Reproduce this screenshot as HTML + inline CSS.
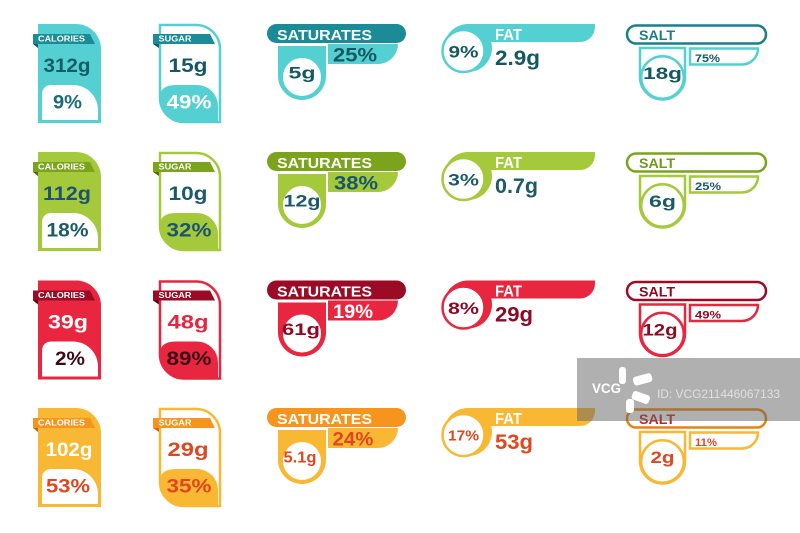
<!DOCTYPE html>
<html><head><meta charset="utf-8"><style>
html,body{margin:0;padding:0;background:#fff;}
svg{display:block;}
text{font-family:"Liberation Sans",Arial,sans-serif;font-weight:bold;}
</style></head><body>
<svg width="800" height="533" viewBox="0 0 800 533" xmlns="http://www.w3.org/2000/svg">
<rect width="800" height="533" fill="#fff"/>

<!-- ROW 1 TEAL -->
<g>
  <path d="M38,24 H76 A25,25 0 0 1 101,49 V123 H38 Z" fill="#55d0d2"/>
  <path d="M42,120 V95 Q42,85 52,85 H73 A25,25 0 0 1 98,110 V120 Z" fill="#fff"/>
  <path d="M33,34 H90 L95,44 H33 Z" fill="#1a8b97"/><path d="M33,44 H38 V48 Z" fill="#0e5c66"/>
  <text x="38" y="41.7" font-size="8" fill="#fff" textLength="47" lengthAdjust="spacingAndGlyphs">CALORIES</text>
  <text x="67" y="72" font-size="19" fill="#145c67" text-anchor="middle" textLength="47" lengthAdjust="spacingAndGlyphs">312g</text>
  <text x="67.5" y="108.5" font-size="19" fill="#1a6c78" text-anchor="middle" textLength="29" lengthAdjust="spacingAndGlyphs">9%</text>

  <path d="M160,98 V97 Q160,85 176,85 H197 A21,21 0 0 1 218,106 V122 H184 A24,24 0 0 1 160,98 Z" fill="#55d0d2"/>
  <path d="M160,25 H196 A24,24 0 0 1 220,49 V122 H184 A24,24 0 0 1 160,98 Z" fill="none" stroke="#55d0d2" stroke-width="2.5"/>
  <path d="M153,34 H210 L215,44 H153 Z" fill="#1a8b97"/><path d="M153,44 H159 V48 Z" fill="#0e5c66"/>
  <text x="158.5" y="41.7" font-size="8" fill="#fff" textLength="33" lengthAdjust="spacingAndGlyphs">SUGAR</text>
  <text x="188" y="72" font-size="19" fill="#135862" text-anchor="middle" textLength="39" lengthAdjust="spacingAndGlyphs">15g</text>
  <text x="189" y="108.5" font-size="19" fill="#fff" text-anchor="middle" textLength="45" lengthAdjust="spacingAndGlyphs">49%</text>

  <rect x="267" y="24" width="139" height="19" rx="9.5" fill="#1a8b97"/>
  <text x="277" y="40" font-size="15" fill="#fff" textLength="95" lengthAdjust="spacingAndGlyphs">SATURATES</text>
  <path d="M278,46 H326 V76 A24,24 0 0 1 278,76 Z" fill="#55d0d2"/>
  <circle cx="302" cy="77" r="20.5" fill="#fff" stroke="#55d0d2" stroke-width="3"/>
  <text x="302" y="78.5" font-size="17" fill="#135862" text-anchor="middle" textLength="27" lengthAdjust="spacingAndGlyphs">5g</text>
  <path d="M328,44 H398 A20,20 0 0 1 378,64 H328 Z" fill="#55d0d2"/>
  <text x="355" y="61.7" font-size="19" fill="#135862" text-anchor="middle" textLength="44" lengthAdjust="spacingAndGlyphs">25%</text>

  <path d="M468,24 H595 V27 A15,15 0 0 1 580,42 H468 Z" fill="#55d0d2"/>
  <circle cx="468" cy="48" r="24" fill="#55d0d2"/>
  <circle cx="463.5" cy="51" r="21" fill="#fff" stroke="#55d0d2" stroke-width="2.5"/>
  <text x="463.5" y="57.5" font-size="17" fill="#135862" text-anchor="middle" textLength="30" lengthAdjust="spacingAndGlyphs">9%</text>
  <text x="495" y="40" font-size="15.5" fill="#fff" textLength="27" lengthAdjust="spacingAndGlyphs">FAT</text>
  <text x="495" y="65" font-size="21" fill="#135862" textLength="45" lengthAdjust="spacingAndGlyphs">2.9g</text>

  <rect x="627" y="25.5" width="139" height="18" rx="9" fill="#fff" stroke="#1a7f8c" stroke-width="2.5"/>
  <text x="639" y="40" font-size="14" fill="#1a7f8c" textLength="36" lengthAdjust="spacingAndGlyphs">SALT</text>
  <path d="M640,48 H685 V77 A22.5,22.5 0 0 1 640,77 Z" fill="#fff" stroke="#55d0d2" stroke-width="2.5"/>
  <circle cx="662.5" cy="77.5" r="21.3" fill="#fff" stroke="#55d0d2" stroke-width="2.5"/>
  <text x="662.5" y="79" font-size="17" fill="#135862" text-anchor="middle" textLength="39" lengthAdjust="spacingAndGlyphs">18g</text>
  <path d="M690,48.5 H758 A16,16 0 0 1 742,64.5 H690 Z" fill="#fff" stroke="#55d0d2" stroke-width="2.5"/>
  <text x="695" y="62" font-size="11" fill="#135862" textLength="25" lengthAdjust="spacingAndGlyphs">75%</text>
</g>

<!-- ROW 2 GREEN -->
<g transform="translate(0,128)">
  <path d="M38,24 H76 A25,25 0 0 1 101,49 V123 H38 Z" fill="#a4c93b"/>
  <path d="M42,120 V95 Q42,85 52,85 H73 A25,25 0 0 1 98,110 V120 Z" fill="#fff"/>
  <path d="M33,34 H90 L95,44 H33 Z" fill="#7ba41c"/><path d="M33,44 H38 V48 Z" fill="#4a6a10"/>
  <text x="38" y="41.7" font-size="8" fill="#fff" textLength="47" lengthAdjust="spacingAndGlyphs">CALORIES</text>
  <text x="67" y="72" font-size="19" fill="#1b5470" text-anchor="middle" textLength="48" lengthAdjust="spacingAndGlyphs">112g</text>
  <text x="67.5" y="108.5" font-size="19" fill="#1b5a6c" text-anchor="middle" textLength="42" lengthAdjust="spacingAndGlyphs">18%</text>

  <path d="M160,98 V97 Q160,85 176,85 H197 A21,21 0 0 1 218,106 V122 H184 A24,24 0 0 1 160,98 Z" fill="#a4c93b"/>
  <path d="M160,25 H196 A24,24 0 0 1 220,49 V122 H184 A24,24 0 0 1 160,98 Z" fill="none" stroke="#a4c93b" stroke-width="2.5"/>
  <path d="M153,34 H210 L215,44 H153 Z" fill="#7ba41c"/><path d="M153,44 H159 V48 Z" fill="#4a6a10"/>
  <text x="158.5" y="41.7" font-size="8" fill="#fff" textLength="33" lengthAdjust="spacingAndGlyphs">SUGAR</text>
  <text x="188" y="72" font-size="19" fill="#1b5a6c" text-anchor="middle" textLength="39" lengthAdjust="spacingAndGlyphs">10g</text>
  <text x="189" y="108.5" font-size="19" fill="#1b5470" text-anchor="middle" textLength="45" lengthAdjust="spacingAndGlyphs">32%</text>

  <rect x="267" y="24" width="139" height="19" rx="9.5" fill="#7ba41c"/>
  <text x="277" y="40" font-size="15" fill="#fff" textLength="95" lengthAdjust="spacingAndGlyphs">SATURATES</text>
  <path d="M278,46 H326 V76 A24,24 0 0 1 278,76 Z" fill="#a4c93b"/>
  <circle cx="302" cy="77" r="20.5" fill="#fff" stroke="#a4c93b" stroke-width="3"/>
  <text x="302" y="78.5" font-size="17" fill="#1b5a6c" text-anchor="middle" textLength="37" lengthAdjust="spacingAndGlyphs">12g</text>
  <path d="M328,44 H398 A20,20 0 0 1 378,64 H328 Z" fill="#a4c93b"/>
  <text x="356" y="61.7" font-size="19" fill="#1b5470" text-anchor="middle" textLength="44" lengthAdjust="spacingAndGlyphs">38%</text>

  <path d="M468,24 H595 V27 A15,15 0 0 1 580,42 H468 Z" fill="#a4c93b"/>
  <circle cx="468" cy="48" r="24" fill="#a4c93b"/>
  <circle cx="463.5" cy="51" r="21" fill="#fff" stroke="#a4c93b" stroke-width="2.5"/>
  <text x="463.5" y="57.5" font-size="17" fill="#1b5a6c" text-anchor="middle" textLength="31" lengthAdjust="spacingAndGlyphs">3%</text>
  <text x="495" y="40" font-size="15.5" fill="#fff" textLength="27" lengthAdjust="spacingAndGlyphs">FAT</text>
  <text x="495" y="65" font-size="21" fill="#1b5a6c" textLength="43" lengthAdjust="spacingAndGlyphs">0.7g</text>

  <rect x="627" y="25.5" width="139" height="18" rx="9" fill="#fff" stroke="#7ba41c" stroke-width="2.5"/>
  <text x="639" y="40" font-size="14" fill="#6e9a1a" textLength="36" lengthAdjust="spacingAndGlyphs">SALT</text>
  <path d="M640,48 H685 V77 A22.5,22.5 0 0 1 640,77 Z" fill="#fff" stroke="#a4c93b" stroke-width="2.5"/>
  <circle cx="662.5" cy="77.5" r="21.3" fill="#fff" stroke="#a4c93b" stroke-width="2.5"/>
  <text x="662.5" y="79" font-size="17" fill="#1b5a6c" text-anchor="middle" textLength="27" lengthAdjust="spacingAndGlyphs">6g</text>
  <path d="M690,48.5 H758 A16,16 0 0 1 742,64.5 H690 Z" fill="#fff" stroke="#a4c93b" stroke-width="2.5"/>
  <text x="695" y="62" font-size="11" fill="#1b5a6c" textLength="26" lengthAdjust="spacingAndGlyphs">25%</text>
</g>

<!-- ROW 3 RED -->
<g transform="translate(0,256.5)">
  <path d="M38,24 H76 A25,25 0 0 1 101,49 V123 H38 Z" fill="#e8263f"/>
  <path d="M42,120 V95 Q42,85 52,85 H73 A25,25 0 0 1 98,110 V120 Z" fill="#fff"/>
  <path d="M33,34 H90 L95,44 H33 Z" fill="#9c0b25"/><path d="M33,44 H38 V48 Z" fill="#5a0614"/>
  <text x="38" y="41.7" font-size="8" fill="#fff" textLength="47" lengthAdjust="spacingAndGlyphs">CALORIES</text>
  <text x="68" y="72" font-size="19" fill="#fff" text-anchor="middle" textLength="40" lengthAdjust="spacingAndGlyphs">39g</text>
  <text x="70" y="108.5" font-size="19" fill="#3c0b16" text-anchor="middle" textLength="30" lengthAdjust="spacingAndGlyphs">2%</text>

  <path d="M160,98 V97 Q160,85 176,85 H197 A21,21 0 0 1 218,106 V122 H184 A24,24 0 0 1 160,98 Z" fill="#e8263f"/>
  <path d="M160,25 H196 A24,24 0 0 1 220,49 V122 H184 A24,24 0 0 1 160,98 Z" fill="none" stroke="#e8263f" stroke-width="2.5"/>
  <path d="M153,34 H210 L215,44 H153 Z" fill="#9c0b25"/><path d="M153,44 H159 V48 Z" fill="#5a0614"/>
  <text x="158.5" y="41.7" font-size="8" fill="#fff" textLength="33" lengthAdjust="spacingAndGlyphs">SUGAR</text>
  <text x="188" y="72" font-size="19" fill="#e8263f" text-anchor="middle" textLength="41" lengthAdjust="spacingAndGlyphs">48g</text>
  <text x="189" y="108.5" font-size="19" fill="#3c0b16" text-anchor="middle" textLength="45" lengthAdjust="spacingAndGlyphs">89%</text>

  <rect x="267" y="24" width="139" height="19" rx="9.5" fill="#9c0b25"/>
  <text x="277" y="40" font-size="15" fill="#fff" textLength="95" lengthAdjust="spacingAndGlyphs">SATURATES</text>
  <path d="M278,46 H326 V76 A24,24 0 0 1 278,76 Z" fill="#e8263f"/>
  <circle cx="302" cy="77" r="20.5" fill="#fff" stroke="#e8263f" stroke-width="3"/>
  <text x="301" y="78.5" font-size="17" fill="#8c0b22" text-anchor="middle" textLength="38" lengthAdjust="spacingAndGlyphs">61g</text>
  <path d="M328,44 H398 A20,20 0 0 1 378,64 H328 Z" fill="#e8263f"/>
  <text x="353" y="61.7" font-size="19" fill="#fff" text-anchor="middle" textLength="40" lengthAdjust="spacingAndGlyphs">19%</text>

  <path d="M468,24 H595 V27 A15,15 0 0 1 580,42 H468 Z" fill="#e8263f"/>
  <circle cx="468" cy="48" r="24" fill="#e8263f"/>
  <circle cx="463.5" cy="51" r="21" fill="#fff" stroke="#e8263f" stroke-width="2.5"/>
  <text x="463.5" y="57.5" font-size="17" fill="#8c0b22" text-anchor="middle" textLength="31" lengthAdjust="spacingAndGlyphs">8%</text>
  <text x="495" y="40" font-size="15.5" fill="#fff" textLength="27" lengthAdjust="spacingAndGlyphs">FAT</text>
  <text x="495" y="65" font-size="21" fill="#8c0b22" textLength="38" lengthAdjust="spacingAndGlyphs">29g</text>

  <rect x="627" y="25.5" width="139" height="18" rx="9" fill="#fff" stroke="#9c0b25" stroke-width="2.5"/>
  <text x="639" y="40" font-size="14" fill="#8c0b22" textLength="36" lengthAdjust="spacingAndGlyphs">SALT</text>
  <path d="M640,48 H685 V77 A22.5,22.5 0 0 1 640,77 Z" fill="#fff" stroke="#e8263f" stroke-width="2.5"/>
  <circle cx="662.5" cy="77.5" r="21.3" fill="#fff" stroke="#e8263f" stroke-width="2.5"/>
  <text x="660" y="79" font-size="17" fill="#8c0b22" text-anchor="middle" textLength="35" lengthAdjust="spacingAndGlyphs">12g</text>
  <path d="M690,48.5 H758 A16,16 0 0 1 742,64.5 H690 Z" fill="#fff" stroke="#e8263f" stroke-width="2.5"/>
  <text x="695" y="62" font-size="11" fill="#8c0b22" textLength="26" lengthAdjust="spacingAndGlyphs">49%</text>
</g>

<!-- ROW 4 YELLOW -->
<g transform="translate(0,384)">
  <path d="M38,24 H76 A25,25 0 0 1 101,49 V123 H38 Z" fill="#f8b834"/>
  <path d="M42,120 V95 Q42,85 52,85 H73 A25,25 0 0 1 98,110 V120 Z" fill="#fff"/>
  <path d="M33,34 H90 L95,44 H33 Z" fill="#f7941e"/><path d="M33,44 H38 V48 Z" fill="#c9621a"/>
  <text x="38" y="41.7" font-size="8" fill="#fff" textLength="47" lengthAdjust="spacingAndGlyphs">CALORIES</text>
  <text x="69" y="72" font-size="19" fill="#fff" text-anchor="middle" textLength="47" lengthAdjust="spacingAndGlyphs">102g</text>
  <text x="68" y="108.5" font-size="19" fill="#e2461f" text-anchor="middle" textLength="44" lengthAdjust="spacingAndGlyphs">53%</text>

  <path d="M160,98 V97 Q160,85 176,85 H197 A21,21 0 0 1 218,106 V122 H184 A24,24 0 0 1 160,98 Z" fill="#f8b834"/>
  <path d="M160,25 H196 A24,24 0 0 1 220,49 V122 H184 A24,24 0 0 1 160,98 Z" fill="none" stroke="#f8b834" stroke-width="2.5"/>
  <path d="M153,34 H210 L215,44 H153 Z" fill="#f7941e"/><path d="M153,44 H159 V48 Z" fill="#c9621a"/>
  <text x="158.5" y="41.7" font-size="8" fill="#fff" textLength="33" lengthAdjust="spacingAndGlyphs">SUGAR</text>
  <text x="188" y="72" font-size="19" fill="#e2461f" text-anchor="middle" textLength="41" lengthAdjust="spacingAndGlyphs">29g</text>
  <text x="189" y="108.5" font-size="19" fill="#e2461f" text-anchor="middle" textLength="45" lengthAdjust="spacingAndGlyphs">35%</text>

  <rect x="267" y="24" width="139" height="19" rx="9.5" fill="#f7941e"/>
  <text x="277" y="40" font-size="15" fill="#fff" textLength="95" lengthAdjust="spacingAndGlyphs">SATURATES</text>
  <path d="M278,46 H326 V76 A24,24 0 0 1 278,76 Z" fill="#f8b834"/>
  <circle cx="302" cy="77" r="20.5" fill="#fff" stroke="#f8b834" stroke-width="3"/>
  <text x="300" y="78.5" font-size="16" fill="#e2461f" text-anchor="middle" textLength="33" lengthAdjust="spacingAndGlyphs">5.1g</text>
  <path d="M328,44 H398 A20,20 0 0 1 378,64 H328 Z" fill="#f8b834"/>
  <text x="353" y="61.7" font-size="19" fill="#e2461f" text-anchor="middle" textLength="41" lengthAdjust="spacingAndGlyphs">24%</text>

  <path d="M468,24 H595 V27 A15,15 0 0 1 580,42 H468 Z" fill="#f8b834"/>
  <circle cx="468" cy="48" r="24" fill="#f8b834"/>
  <circle cx="463.5" cy="51" r="21" fill="#fff" stroke="#f8b834" stroke-width="2.5"/>
  <text x="463.5" y="56.5" font-size="15" fill="#e2461f" text-anchor="middle" textLength="31" lengthAdjust="spacingAndGlyphs">17%</text>
  <text x="495" y="40" font-size="15.5" fill="#fff" textLength="27" lengthAdjust="spacingAndGlyphs">FAT</text>
  <text x="495" y="65" font-size="21" fill="#e2461f" textLength="38" lengthAdjust="spacingAndGlyphs">53g</text>

  <rect x="627" y="25.5" width="139" height="18" rx="9" fill="#fff" stroke="#e8820f" stroke-width="2.5"/>
  <text x="639" y="40" font-size="14" fill="#c0261e" textLength="36" lengthAdjust="spacingAndGlyphs">SALT</text>
  <path d="M640,48 H685 V77 A22.5,22.5 0 0 1 640,77 Z" fill="#fff" stroke="#f8b834" stroke-width="2.5"/>
  <circle cx="662.5" cy="77.5" r="21.3" fill="#fff" stroke="#f8b834" stroke-width="2.5"/>
  <text x="662.5" y="79" font-size="17" fill="#e2461f" text-anchor="middle" textLength="24" lengthAdjust="spacingAndGlyphs">2g</text>
  <path d="M690,48.5 H758 A16,16 0 0 1 742,64.5 H690 Z" fill="#fff" stroke="#f8b834" stroke-width="2.5"/>
  <text x="695" y="62" font-size="11" fill="#e2461f" textLength="22" lengthAdjust="spacingAndGlyphs">11%</text>
</g>

<!-- WATERMARK -->
<rect x="577" y="358" width="223" height="63" fill="rgba(97,97,97,0.5)"/>
<text x="592" y="393" font-size="14" fill="#fff" textLength="29" lengthAdjust="spacingAndGlyphs">VCG</text>
<g fill="#fff">
  <rect x="619" y="367" width="7" height="17" rx="3"/>
  <rect x="633" y="375" width="19" height="9" rx="3" transform="rotate(-15 642 379)"/>
  <rect x="632" y="393" width="18" height="9" rx="3" transform="rotate(20 641 397)"/>
  <rect x="626" y="399" width="8" height="14" rx="3"/>
</g>
<text x="657" y="398" font-size="12" font-weight="normal" style="font-weight:normal" fill="rgba(255,255,255,0.6)" textLength="123" lengthAdjust="spacingAndGlyphs">ID: VCG211446067133</text>
</svg>
</body></html>
